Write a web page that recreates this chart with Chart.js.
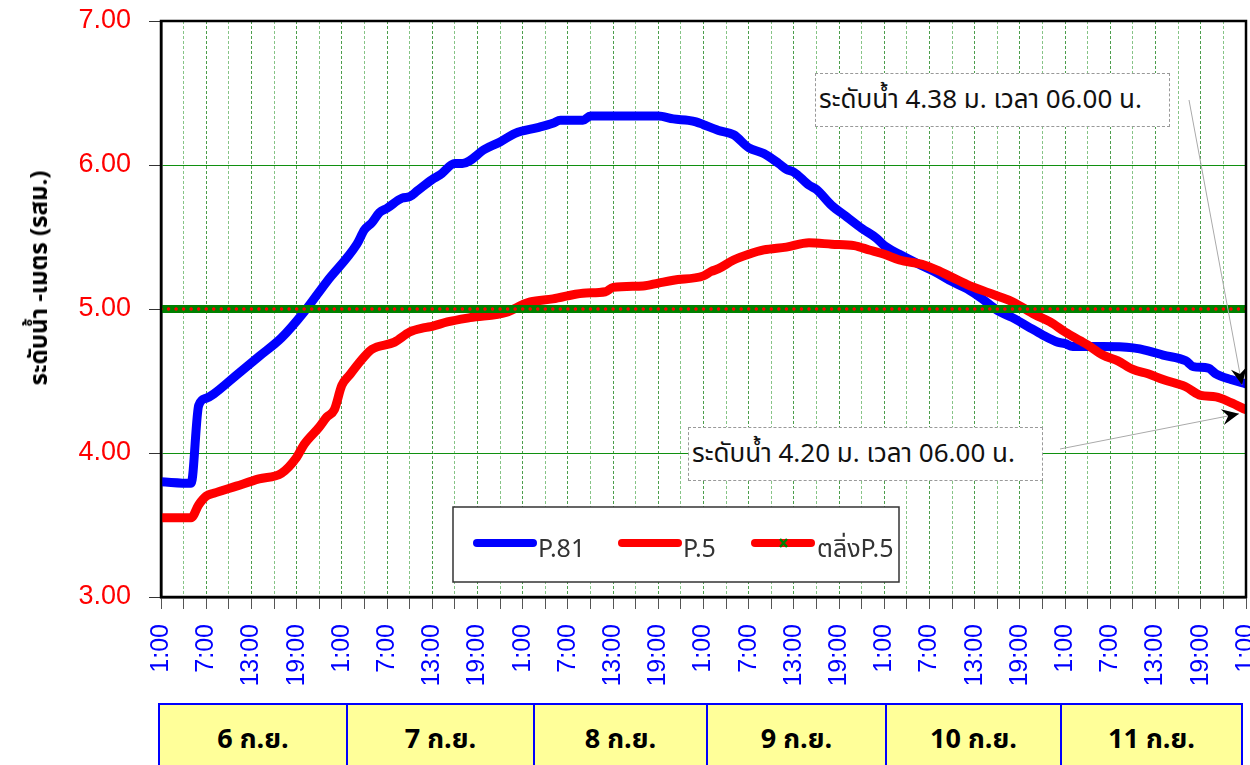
<!DOCTYPE html>
<html>
<head>
<meta charset="utf-8">
<script src="https://cdn.jsdelivr.net/npm/chart.js@4.4.0/dist/chart.umd.min.js"></script>
<style>
  body { margin: 0; background: #fff; }
  #wrap { position: relative; width: 1250px; height: 765px; overflow: hidden; }
  #chart { position: absolute; left: 0; top: 0; }
  .ytitle {
    position: absolute; left: 40px; top: 278px;
    transform: translate(-50%, -50%) rotate(-90deg);
    font: bold 24px 'Noto Sans Thai', 'Noto Sans', 'DejaVu Sans', sans-serif;
    white-space: nowrap; color: #000;
  }
  .note {
    position: absolute; background: #fff; border: 1px dashed #999;
    box-sizing: border-box; white-space: nowrap; color: #111;
    font: 26px 'Noto Sans Thai', 'Noto Sans', 'DejaVu Sans', sans-serif;
    padding-left: 3px;
  }
  .day {
    position: absolute; top: 703px; height: 70px; box-sizing: border-box;
    background: #ffff99; border: 2px solid #0000ff; text-align: center;
    font: bold 27px 'Noto Sans Thai', 'Noto Sans', 'DejaVu Sans', sans-serif;
    line-height: 70px; color: #000;
  }
</style>
</head>
<body>
<div id="wrap">
  <canvas id="chart" width="1250" height="765"></canvas>
  <div class="ytitle">ระดับน้ำ -เมตร (รสม.)</div>
</div>
<script>
// hours counted from 1:00 on 6 Sep
const p81Hours = [0, 4, 5, 6, 7, 10, 13, 16, 19, 22, 26, 27, 28, 29, 30, 32, 33, 34, 36, 37, 39, 40, 43, 45, 47, 50, 52, 53, 56, 57, 66, 68, 70, 71, 72, 74, 76, 78, 80, 82, 83, 84, 86, 87, 89, 91, 93, 95, 96, 98, 101, 103, 105, 107, 109, 111, 113, 115, 117, 119, 120, 121, 125, 129, 131, 133, 136, 137, 139, 140, 142, 144]
const p81Levels = [3.80, 3.79, 4.33, 4.38, 4.41, 4.54, 4.67, 4.80, 4.98, 5.19, 5.45, 5.55, 5.60, 5.67, 5.70, 5.77, 5.78, 5.82, 5.90, 5.93, 6.01, 6.01, 6.11, 6.16, 6.22, 6.26, 6.29, 6.31, 6.31, 6.34, 6.34, 6.32, 6.31, 6.30, 6.28, 6.24, 6.21, 6.12, 6.08, 6.01, 5.97, 5.95, 5.86, 5.83, 5.72, 5.64, 5.56, 5.49, 5.44, 5.38, 5.30, 5.25, 5.19, 5.14, 5.07, 4.99, 4.94, 4.88, 4.82, 4.77, 4.76, 4.74, 4.74, 4.73, 4.71, 4.68, 4.64, 4.60, 4.59, 4.55, 4.51, 4.48]

const p5Hours = [0, 4, 5, 6, 7, 10, 13, 16, 18, 19, 21, 22, 23, 24, 25, 27, 28, 31, 33, 35, 36, 38, 41, 46, 48, 49, 52, 56, 59, 60, 64, 66, 68, 72, 73, 74, 76, 78, 80, 83, 86, 89, 92, 94, 96, 98, 101, 103, 105, 107, 110, 111, 113, 116, 118, 120, 122, 123, 125, 127, 129, 131, 133, 136, 138, 140, 142, 144]
const p5Levels = [3.55, 3.55, 3.64, 3.70, 3.72, 3.77, 3.82, 3.86, 3.97, 4.06, 4.18, 4.25, 4.30, 4.47, 4.54, 4.67, 4.72, 4.77, 4.84, 4.87, 4.88, 4.91, 4.94, 4.98, 5.03, 5.05, 5.07, 5.11, 5.12, 5.15, 5.16, 5.18, 5.20, 5.23, 5.26, 5.28, 5.34, 5.38, 5.41, 5.43, 5.46, 5.45, 5.44, 5.41, 5.38, 5.34, 5.31, 5.27, 5.22, 5.17, 5.11, 5.09, 5.05, 4.96, 4.91, 4.84, 4.78, 4.75, 4.68, 4.64, 4.58, 4.55, 4.51, 4.46, 4.40, 4.39, 4.35, 4.30]

// bank level of P.5, plotted every hour
const bankLevel = 5.00
const bankHours = Array.from({ length: 145 }, (_, i) => i)

const timeLabels = ['1:00', '7:00', '13:00', '19:00']
const dayLabels = ['6 ก.ย.', '7 ก.ย.', '8 ก.ย.', '9 ก.ย.', '10 ก.ย.', '11 ก.ย.']
const noteP81 = 'ระดับน้ำ 4.38 ม. เวลา 06.00 น.'
const noteP5 = 'ระดับน้ำ 4.20 ม. เวลา 06.00 น.'

const thaiFont = "'Noto Sans Thai', 'Noto Sans', 'DejaVu Sans', sans-serif"
const numFont = "'Liberation Sans', Arial, sans-serif"

// day boxes under the axis (pixel edges)
const dayEdges = [158, 346, 533, 706, 885, 1060, 1241]
const wrap = document.getElementById('wrap')
dayLabels.forEach((txt, i) => {
  const d = document.createElement('div')
  d.className = 'day'
  d.style.left = dayEdges[i] + 'px'
  d.style.width = (dayEdges[i + 1] - dayEdges[i] + 2) + 'px'
  d.textContent = txt
  wrap.appendChild(d)
})

function addNote(text, left, top, width, height) {
  const n = document.createElement('div')
  n.className = 'note'
  n.style.left = left + 'px'
  n.style.top = top + 'px'
  n.style.width = width + 'px'
  n.style.height = height + 'px'
  n.style.lineHeight = (height - 2) + 'px'
  n.textContent = text
  wrap.appendChild(n)
}
addNote(noteP81, 815, 73, 355, 54)
addNote(noteP5, 688, 427, 355, 54)

function arrow(ctx, x0, y0, x1, y1) {
  ctx.strokeStyle = '#aaa'
  ctx.lineWidth = 1
  ctx.beginPath()
  ctx.moveTo(x0, y0)
  ctx.lineTo(x1, y1)
  ctx.stroke()
  let ang = Math.atan2(y1 - y0, x1 - x0)
  ctx.save()
  ctx.translate(x1, y1)
  ctx.rotate(ang)
  ctx.fillStyle = '#000'
  ctx.beginPath()
  ctx.moveTo(0, 0)
  ctx.lineTo(-17, -8)
  ctx.lineTo(-11, 0)
  ctx.lineTo(-17, 8)
  ctx.closePath()
  ctx.fill()
  ctx.restore()
}

function legendLine(ctx, x0, x1, y, color) {
  ctx.strokeStyle = color
  ctx.lineWidth = 8
  ctx.lineCap = 'round'
  ctx.beginPath()
  ctx.moveTo(x0, y)
  ctx.lineTo(x1, y)
  ctx.stroke()
}

const overlay = {
  id: 'overlay',
  afterDraw(chart) {
    const { ctx, chartArea: a, scales: { x, y } } = chart
    ctx.save()
    // plot frame
    ctx.strokeStyle = '#000'
    ctx.lineWidth = 2.5
    ctx.strokeRect(a.left, a.top, a.right - a.left, a.bottom - a.top)

    // leader arrows to the last readings
    let lastX = x.getPixelForValue(p81Hours[p81Hours.length - 1])
    arrow(ctx, 1189, 100, lastX - 4, y.getPixelForValue(p81Levels[p81Levels.length - 1]) + 1)
    arrow(ctx, 1060, 449, lastX - 7, y.getPixelForValue(p5Levels[p5Levels.length - 1]) + 4)

    // legend box
    ctx.fillStyle = '#fff'
    ctx.fillRect(453, 507, 446, 75)
    ctx.strokeStyle = '#333'
    ctx.lineWidth = 1.5
    ctx.strokeRect(453, 507, 446, 75)
    legendLine(ctx, 477, 533, 543, '#0000ff')
    legendLine(ctx, 622, 678, 543, '#ff0000')
    legendLine(ctx, 755, 811, 543, '#ff0000')
    ctx.strokeStyle = '#008000'
    ctx.lineWidth = 2.5
    ctx.lineCap = 'butt'
    ctx.beginPath()
    ctx.moveTo(780, 539); ctx.lineTo(787, 547)
    ctx.moveTo(787, 539); ctx.lineTo(780, 547)
    ctx.stroke()
    ctx.fillStyle = '#333'
    ctx.font = '25px ' + thaiFont
    ctx.textBaseline = 'alphabetic'
    ctx.fillText('P.81', 538, 557)
    ctx.fillText('P.5', 683, 557)
    ctx.fillText('ตลิ่งP.5', 817, 557)
    ctx.restore()
  }
}

new Chart(document.getElementById('chart'), {
  type: 'line',
  data: {
    datasets: [
      {
        label: 'P.81',
        data: p81Hours.map((h, i) => ({ x: h, y: p81Levels[i] })),
        borderColor: '#0000ff',
        borderWidth: 9,
        pointRadius: 0,
        cubicInterpolationMode: 'monotone',
        borderJoinStyle: 'round',
        borderCapStyle: 'round',
        order: 2
      },
      {
        label: 'P.5',
        data: p5Hours.map((h, i) => ({ x: h, y: p5Levels[i] })),
        borderColor: '#ff0000',
        borderWidth: 9,
        pointRadius: 0,
        cubicInterpolationMode: 'monotone',
        borderJoinStyle: 'round',
        borderCapStyle: 'round',
        order: 1
      },
      {
        label: 'ตลิ่งP.5',
        data: bankHours.map(h => ({ x: h, y: bankLevel })),
        borderColor: '#008000',
        borderWidth: 8,
        pointRadius: 1.8,
        pointBackgroundColor: '#ff0000',
        pointBorderWidth: 0,
        order: 0
      }
    ]
  },
  options: {
    responsive: false,
    animation: false,
    layout: { padding: { left: 0, top: 21, right: 3, bottom: 68 } },
    plugins: { legend: { display: false }, tooltip: { enabled: false } },
    scales: {
      x: {
        type: 'linear',
        min: 0,
        max: 144,
        afterFit(s) { s.height = 100; s.paddingLeft = 0; s.paddingRight = 0 },
        ticks: {
          stepSize: 3,
          autoSkip: false,
          minRotation: 90,
          maxRotation: 90,
          padding: 15,
          color: '#0000ff',
          font: { family: numFont, size: 25 },
          callback: v => v % 6 === 0 ? timeLabels[(v / 6) % 4] : ''
        },
        grid: {
          color: c => (c.tick && c.tick.value % 6 === 0) ? '#4c9e4c' : '#86c486',
          tickColor: '#555',
          tickLength: 12,
          lineWidth: 1
        },
        border: { color: '#000', width: 2.5, dash: [3, 2] }
      },
      y: {
        min: 3,
        max: 7,
        afterFit(s) { s.width = 161; s.paddingTop = 0; s.paddingBottom = 0 },
        ticks: {
          stepSize: 1,
          color: '#ff0000',
          padding: 18,
          font: { family: numFont, size: 27 },
          callback: v => v.toFixed(2)
        },
        grid: { color: '#109010', tickColor: '#333', tickLength: 12 },
        border: { color: '#000', width: 2.5 }
      }
    }
  },
  plugins: [overlay]
})
</script>
</body>
</html>
